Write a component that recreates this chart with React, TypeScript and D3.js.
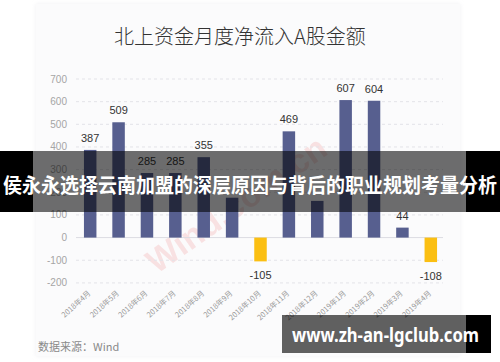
import React from "react";
import * as d3 from "d3";

const months = [
  "2018年4月", "2018年5月", "2018年6月", "2018年7月", "2018年8月", "2018年9月",
  "2018年10月", "2018年11月", "2018年12月", "2019年1月", "2019年2月", "2019年3月", "2019年4月",
];
const inflow = [387, 509, 285, 285, 355, 176, -105, 469, 162, 607, 604, 44, -108];
const labelShown = [true, true, true, true, true, false, true, true, false, true, true, true, true];
const yTicks = [-200, -100, 0, 100, 200, 300, 400, 500, 600, 700];
const title = "北上资金月度净流入A股金额";
const source = "数据来源：Wind";
const banner = "侯永永选择云南加盟的深层原因与背后的职业规划考量分析";
const siteMark = "www.zh-an-lgclub.com";

const W = 500;
const H = 362;
const CJK = "'Noto Sans CJK SC', 'Noto Sans', sans-serif";
const LAT = "'Liberation Sans', Arial, sans-serif";

export default function App() {
  const x = d3.scaleBand<string>().domain(months).range([76, 445]).paddingInner(0.56).paddingOuter(0.28);
  const y = d3.scaleLinear().domain([-200, 700]).range([282.9, 79]);
  const bw = x.bandwidth();
  const y0 = y(0);

  return (
    <div style={{ position: "fixed", left: 0, top: 0, width: W, height: H, background: "#fff" }}>
      <svg width={W} height={H} style={{ display: "block" }}>
        <defs>
          <filter id="sh" x="-5%" y="-5%" width="110%" height="110%">
            <feGaussianBlur stdDeviation="2" />
          </filter>
        </defs>
        <rect x={0} y={0} width={W} height={H} fill="#ffffff" />
        {/* card */}
        <rect x={36} y={4} width={424} height={352} fill="#efeff3" filter="url(#sh)" />
        <rect x={36} y={4} width={424} height={352} fill="#fbfbfc" />

        {/* title */}
        <text x={240} y={44} textAnchor="middle" fontFamily={CJK} fontSize={20} fill="#333" fontWeight={300}>
          {title}
        </text>

        {/* watermark */}
        <text
          transform="translate(243,214) rotate(-35)"
          textAnchor="middle"
          fontFamily={LAT}
          fontWeight="bold"
          fontSize={34}
          fill="#f4bcbc"
          opacity={0.4}
        >
          Wind.com.cn
        </text>

        {/* grid */}
        {yTicks.map((t) => (
          <g key={t}>
            {t !== 0 && (
              <line x1={76} x2={443} y1={y(t)} y2={y(t)} stroke="#e3e3e8" strokeDasharray="3,3" strokeWidth={1} />
            )}
            <text x={67} y={y(t)} dy="0.35em" textAnchor="end" fontFamily={LAT} fontSize={10} fill="#a5a5a5">
              {t}
            </text>
          </g>
        ))}
        <line x1={76} x2={443} y1={y0} y2={y0} stroke="#dcdce2" strokeWidth={1} />

        {/* bars */}
        {inflow.map((v, i) => {
          const cx = (x(months[i]) as number) + bw / 2;
          const top = Math.min(y(v), y0);
          const h = Math.abs(y(v) - y0);
          return (
            <g key={months[i]}>
              <rect x={cx - bw / 2} y={top} width={bw} height={h} fill={v >= 0 ? "#575f8f" : "#fbbf12"} />
              {labelShown[i] && (
                <text
                  x={cx}
                  y={v >= 0 ? y(v) - 8 : y(v) + 17.5}
                  textAnchor="middle"
                  fontFamily={LAT}
                  fontSize={11}
                  fill="#333"
                >
                  {v}
                </text>
              )}
            </g>
          );
        })}

        {/* x labels */}
        {months.map((m) => {
          const cx = (x(m) as number) + bw / 2;
          return (
            <text
              key={m}
              transform={`translate(${cx + 1},${294}) rotate(-42)`}
              textAnchor="end"
              fontFamily={CJK}
              fontSize={7.5}
              fill="#9a9a9a"
            >
              {m}
            </text>
          );
        })}

        {/* source */}
        <text x={38} y={351} fontFamily={CJK} fontSize={11} fill="#8a8a8a">
          {source}
        </text>

        {/* banner overlay */}
        <rect x={0} y={151} width={33} height={61} fill="#000" />
        <rect x={466} y={151} width={34} height={61} fill="#000" />
        <rect x={33} y={151} width={433} height={61} fill="#000" opacity={0.57} />
        <text
          x={250}
          y={193}
          textAnchor="middle"
          fontFamily={CJK}
          fontWeight="bold"
          fontSize={20.5}
          fill="#fff"
          textLength={494}
          lengthAdjust="spacingAndGlyphs"
        >
          {banner}
        </text>

        {/* site mark overlay */}
        <rect x={282} y={315} width={184} height={38} fill="#000" opacity={0.62} />
        <rect x={466} y={315} width={25} height={38} fill="#000" />
        <text
          x={292}
          y={342}
          fontFamily="'Noto Sans', 'DejaVu Sans', sans-serif"
          fontWeight="bold"
          fontSize={19}
          fill="#fff"
          textLength={187}
          lengthAdjust="spacingAndGlyphs"
        >
          {siteMark}
        </text>
      </svg>
    </div>
  );
}
